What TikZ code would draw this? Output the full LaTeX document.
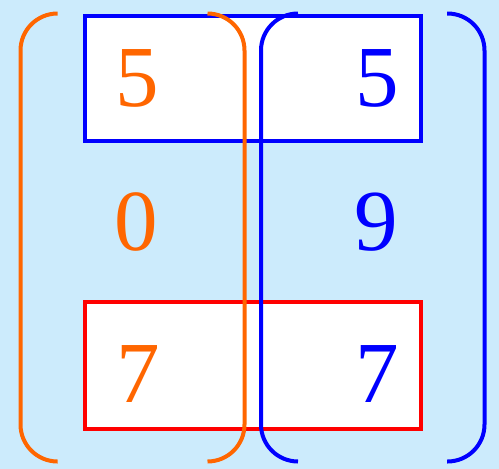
\documentclass[tikz,border=0pt]{standalone}
\usepackage{fontspec}
\setmainfont{Liberation Serif}
\definecolor{bgblue}{RGB}{204,235,252}
\definecolor{myorange}{RGB}{255,102,0}
\definecolor{myblue}{RGB}{0,0,255}
\definecolor{myred}{RGB}{255,0,0}
\tikzset{
  rowbox/.style={draw, fill=white, line width=4pt, inner sep=0pt, minimum width=336pt},
  paren/.style={line width=4pt, rounded corners=37pt},
  digit/.style={inner sep=0pt, anchor=base, font=\fontsize{87}{87}\selectfont},
}
\begin{document}
\begin{tikzpicture}[x=1pt,y=-1pt]
\fill[bgblue] (0,0) rectangle (499,469);
\useasboundingbox (0,0) rectangle (499,469);
% row boxes
\node[rowbox, draw=myblue, minimum height=125pt] (toprow) at (253,78.5) {};
\node[rowbox, draw=myred, minimum height=127pt] (botrow) at (253,365.5) {};
% orange column parentheses
\draw[paren, myorange] (57,13.5) -- (20.5,13.5) -- (20.5,461.5) -- (57,461.5);
\draw[paren, myorange] (207.5,13.5) -- (244.5,13.5) -- (244.5,461.5) -- (207.5,461.5);
% blue column parentheses
\draw[paren, myblue] (298,13.5) -- (261,13.5) -- (261,461.5) -- (298,461.5);
\draw[paren, myblue] (447,13.5) -- (484.5,13.5) -- (484.5,461.5) -- (447,461.5);
% digits
\node[digit, text=myorange] (a1) at (137,106) {5};
\node[digit, text=myorange] (a2) at (136,250) {0};
\node[digit, text=myorange] (a3) at (138,402) {7};
\node[digit, text=myblue] (b1) at (377,106) {5};
\node[digit, text=myblue] (b2) at (376,250) {9};
\node[digit, text=myblue] (b3) at (377,402) {7};
\end{tikzpicture}
\end{document}
